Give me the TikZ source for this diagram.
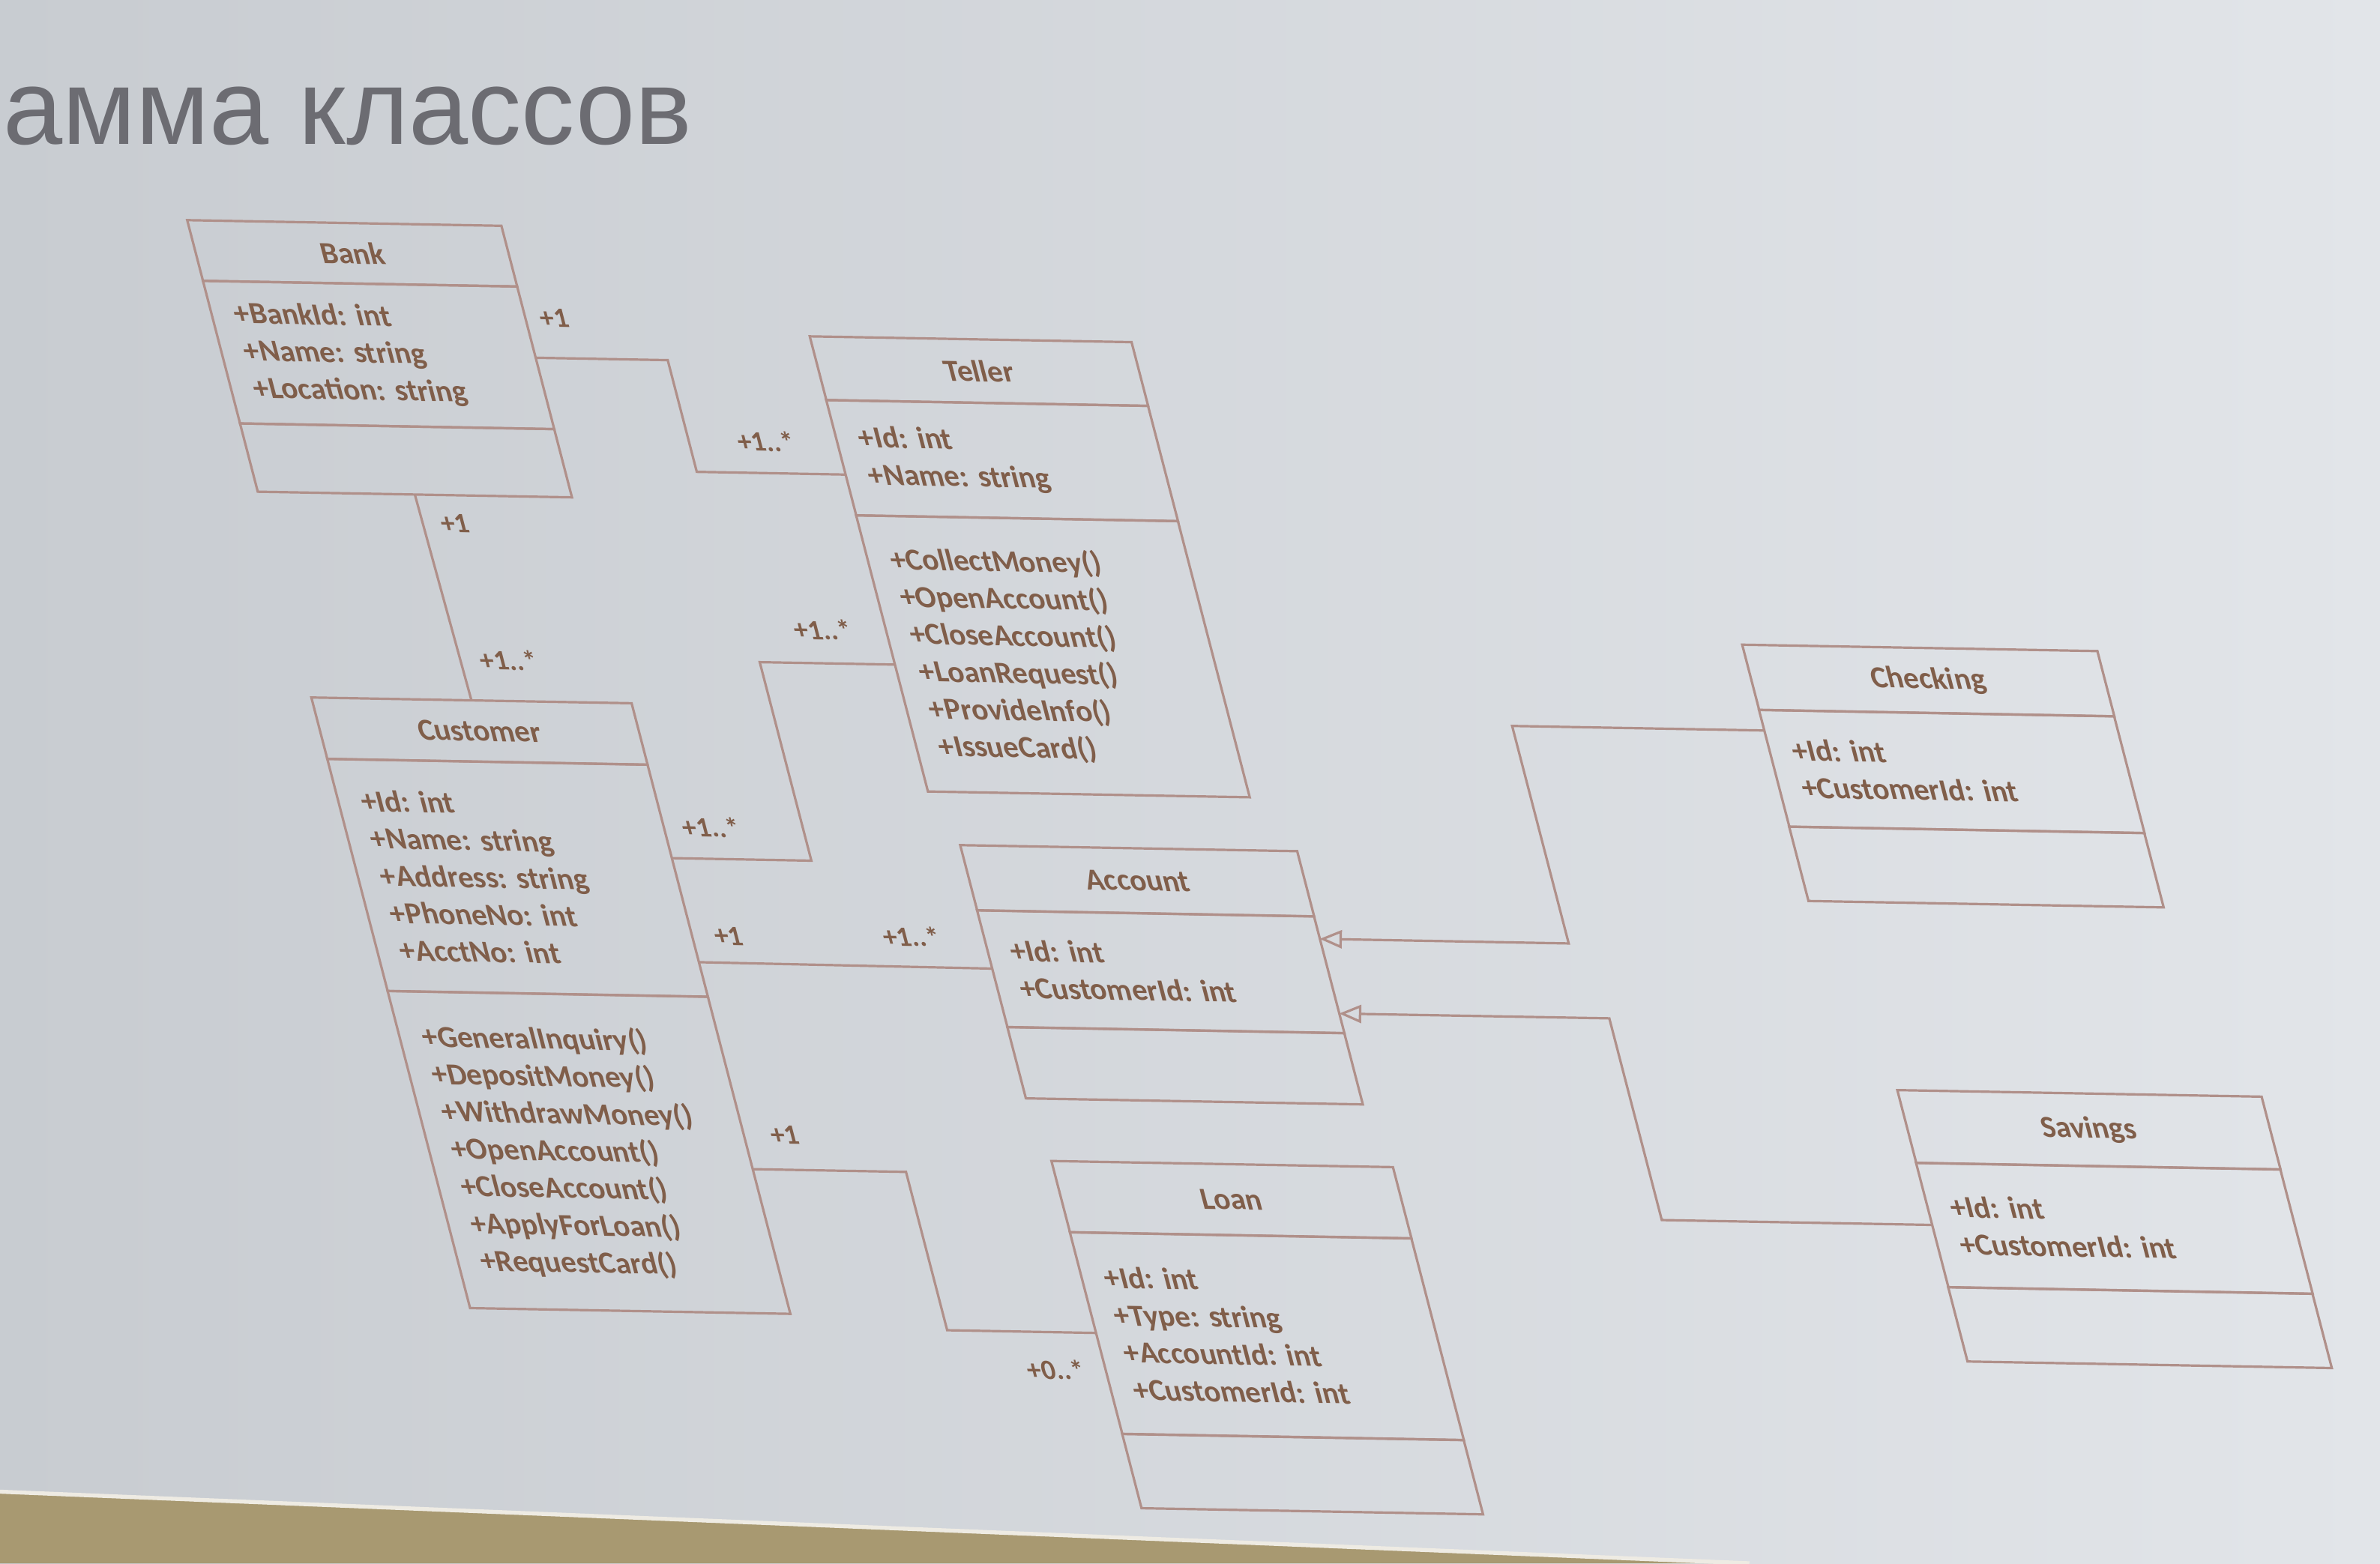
\documentclass[tikz,border=0pt]{standalone}
\usepackage{fontspec}
\setmainfont{Carlito}
\newfontfamily\slidefont{Liberation Sans}
\usetikzlibrary{arrows,positioning}
\frenchspacing

\definecolor{umlline}{RGB}{176,144,138}
\definecolor{umltext}{RGB}{128,94,74}
\definecolor{slidel}{RGB}{200,204,209}
\definecolor{slider}{RGB}{226,229,233}
\definecolor{floorc}{RGB}{168,153,113}
\definecolor{titlegray}{RGB}{108,108,114}

\begin{document}
\begin{tikzpicture}[>=open triangle 45]
	\tikzstyle{box} = [draw=umlline, line width=0.9pt, outer sep=0pt, inner xsep=0.3cm, inner ysep=0pt, align=left, transform shape, text=umltext, font=\fontsize{11.5}{14}\selectfont\bfseries]
	\tikzstyle{head} = [box, align=center, anchor=north west]
	\tikzstyle{mult} = [text=umltext, transform shape, inner sep=1pt, font=\fontsize{10.5}{12}\selectfont\bfseries]
	\tikzstyle{link} = [draw=umlline, line width=0.9pt]

	\useasboundingbox (0,0) rectangle (31.36,-20.604);
	\shade[left color=slidel, right color=slider] (0,0) rectangle (31.36,-20.604);
	\fill[floorc] (0,-19.68) -- (23.0,-20.604) -- (0,-20.604) -- cycle;
	\draw[white!80!floorc, line width=1.5pt] (0,-19.66) -- (23.05,-20.604);

	\node[anchor=base west, inner sep=0pt, text=titlegray, font=\slidefont\fontsize{40}{48}\selectfont] (title) at (0.04,-1.9) {амма классов};

	\begin{scope}[x=0.02cm, y=-0.02cm, cm={1,-0.018,-0.26,1,(0,0)}]
	% classes
	\node[head, text width=3.54cm, minimum height=0.8cm] (bank) at (86,143.5) {Bank};
	\node[box, text width=3.54cm, minimum height=1.88cm, below=0pt of bank] (bank-at) {+BankId: int\\+Name: string\\+Location: string};
	\node[box, text width=3.54cm, minimum height=0.9cm, below=0pt of bank-at] (bank-op) {};

	\node[head, text width=3.64cm, minimum height=0.84cm] (teller) at (478,213) {Teller};
	\node[box, text width=3.64cm, minimum height=1.52cm, below=0pt of teller] (teller-at) {+Id: int\\+Name: string};
	\node[box, text width=3.64cm, minimum height=3.64cm, below=0pt of teller-at] (teller-op) {+CollectMoney()\\+OpenAccount()\\+CloseAccount()\\+LoanRequest()\\+ProvideInfo()\\+IssueCard()};

	\node[head, text width=3.62cm, minimum height=0.81cm] (customer) at (86,458) {Customer};
	\node[box, text width=3.62cm, minimum height=3.06cm, below=0pt of customer] (customer-at) {+Id: int\\+Name: string\\+Address: string\\+PhoneNo: int\\+AcctNo: int};
	\node[box, text width=3.62cm, minimum height=4.18cm, below=0pt of customer-at] (customer-op) {+GeneralInquiry()\\+DepositMoney()\\+WithdrawMoney()\\+OpenAccount()\\+CloseAccount()\\+ApplyForLoan()\\+RequestCard()};

	\node[head, text width=3.84cm, minimum height=0.86cm] (account) at (490,548) {Account};
	\node[box, text width=3.84cm, minimum height=1.54cm, below=0pt of account] (account-at) {+Id: int\\+CustomerId: int};
	\node[box, text width=3.84cm, minimum height=0.94cm, below=0pt of account-at] (account-op) {};

	\node[head, text width=3.9cm, minimum height=0.94cm] (loan) at (496,756) {Loan};
	\node[box, text width=3.9cm, minimum height=2.66cm, below=0pt of loan] (loan-at) {+Id: int\\+Type: string\\+AccountId: int\\+CustomerId: int};
	\node[box, text width=3.9cm, minimum height=0.98cm, below=0pt of loan-at] (loan-op) {};

	\node[head, text width=4.08cm, minimum height=0.86cm] (checking) at (1042,406) {Checking};
	\node[box, text width=4.08cm, minimum height=1.54cm, below=0pt of checking] (checking-at) {+Id: int\\+CustomerId: int};
	\node[box, text width=4.08cm, minimum height=0.98cm, below=0pt of checking-at] (checking-op) {};

	\node[head, text width=4.2cm, minimum height=0.96cm] (savings) at (1068,699) {Savings};
	\node[box, text width=4.2cm, minimum height=1.64cm, below=0pt of savings] (savings-at) {+Id: int\\+CustomerId: int};
	\node[box, text width=4.2cm, minimum height=0.98cm, below=0pt of savings-at] (savings-op) {};

	% associations
	\draw[link] (bank-at.east) -- ++(87,0) -- ++(0,73.6) -- (teller-at.186);
	\draw[link] (bank-op.south) -- (customer.north);
	\draw[link] (teller-op.184) -- ++(-89,0) -- ++(0,130.8) -- (customer-at.8);
	\draw[link] (customer-at.333) -- (account-at.west);
	\draw[link] (customer-op.355) -- ++(101,0) -- ++(0,104.3) -- (loan-at.west);

	% generalizations
	\draw[link, ->] (checking-at.168) -- ++(-166,0) -- ++(0,143.3) -- (account-at.12);
	\draw[link, ->] (savings-at.west) -- ++(-178,0) -- ++(0,-132.9) -- (account-at.347);

	% multiplicities
	\node[mult] (m1) at (312,204) {+1};
	\node[mult] (m2) at (431,283) {+1..*};
	\node[mult] (m3) at (211,341) {+1};
	\node[mult] (m4) at (223,431) {+1..*};
	\node[mult] (m5) at (436,407) {+1..*};
	\node[mult] (m6) at (328,539) {+1..*};
	\node[mult] (m7) at (321,611) {+1};
	\node[mult] (m8) at (442,609) {+1..*};
	\node[mult] (m9) at (324,742) {+1};
	\node[mult] (m10) at (463,894) {+0..*};
	\end{scope}
\end{tikzpicture}
\end{document}
